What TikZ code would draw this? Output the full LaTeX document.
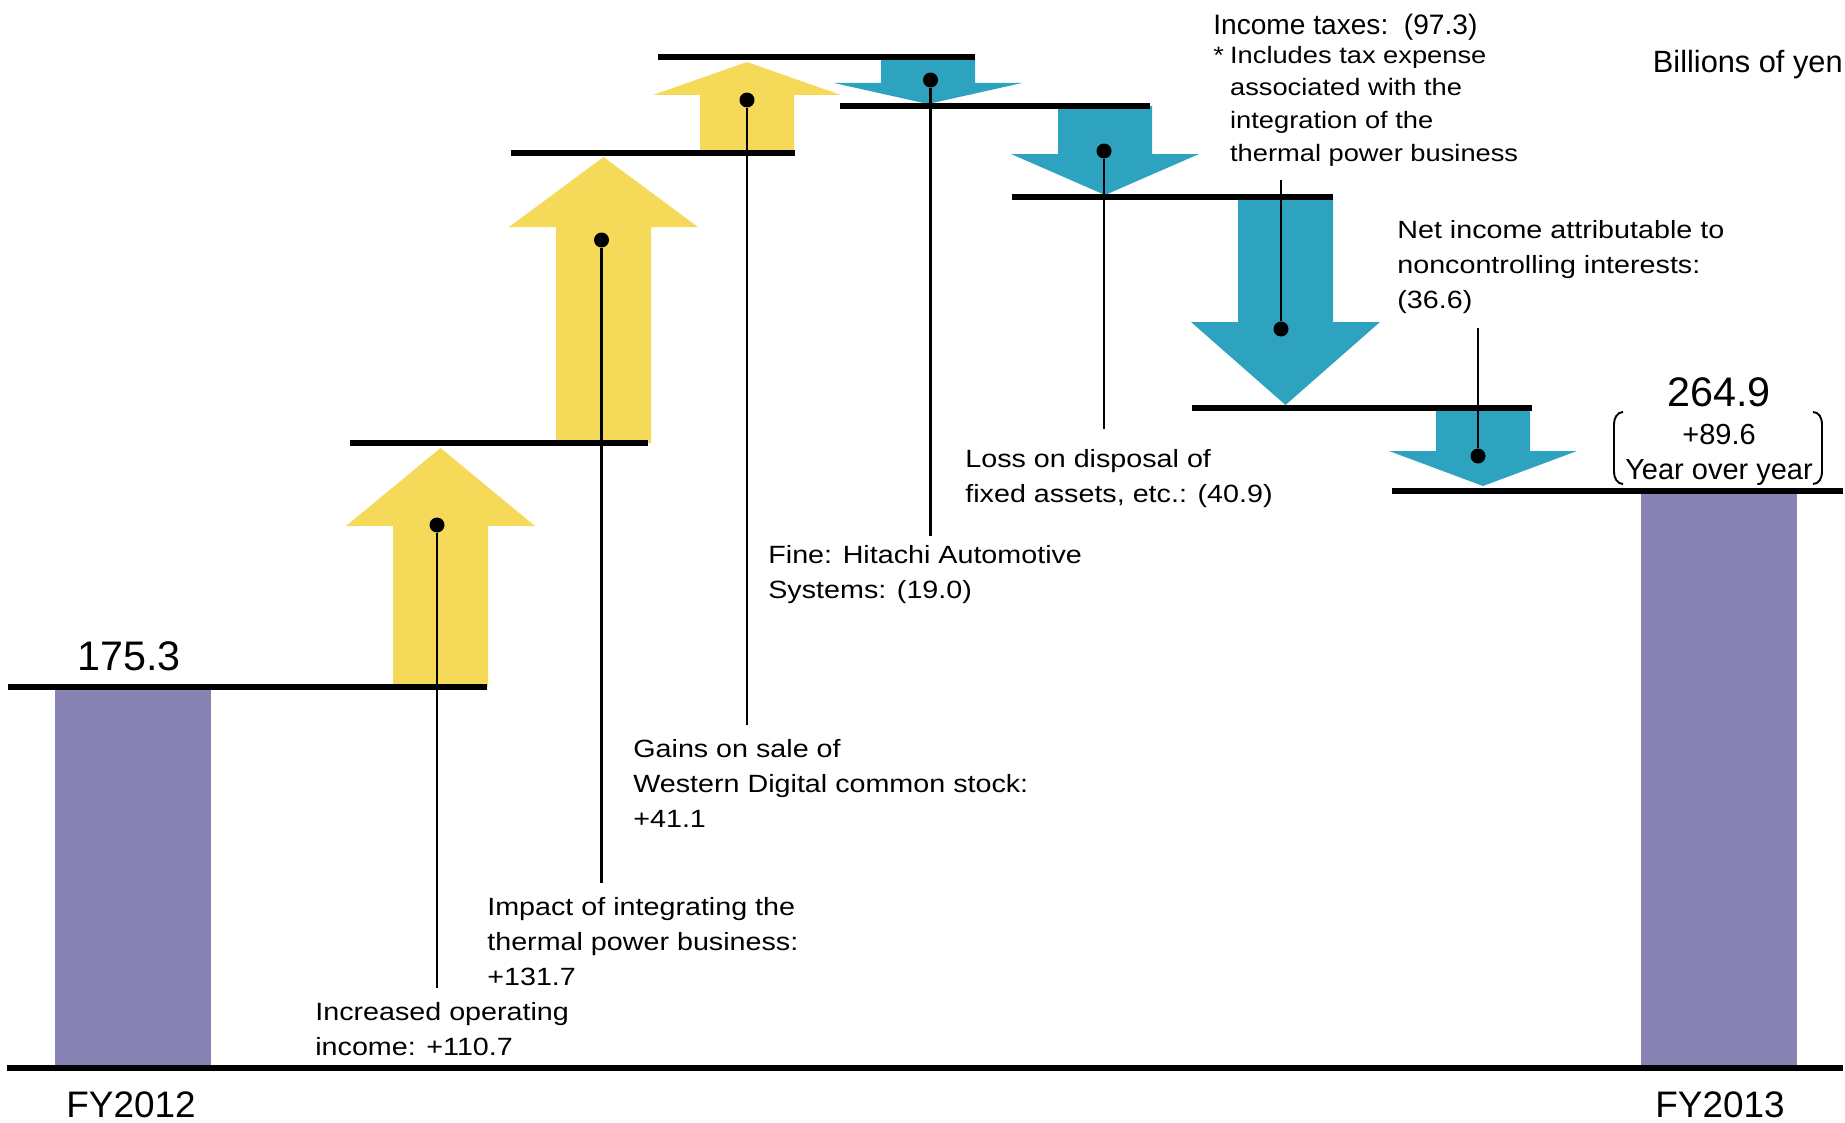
\documentclass[tikz,border=0pt]{standalone}
\usepackage{fontspec}
\setmainfont{Liberation Sans}[FakeStretch=1.15]
\newfontfamily\numfont{Liberation Sans}

\definecolor{gainyellow}{RGB}{245,218,90}
\definecolor{lossblue}{RGB}{46,163,192}
\definecolor{barpurple}{RGB}{135,131,179}

\newcommand{\lblfont}{\fontsize{14.2}{19.9}\selectfont}
\newcommand{\notefont}{\fontsize{13.5}{18.5}\selectfont}
\newcommand{\noteindent}{\hphantom{*}\hspace*{3.5pt}}

\begin{document}
\begin{tikzpicture}[
    x=0.02cm,
    y=-0.02cm,
    level/.style={line width=3.4pt},
    leader/.style={line width=1.4pt},
    dot/.style={circle, fill, inner sep=0pt, minimum size=0.3cm},
    lbl/.style={align=left, anchor=base west, inner xsep=0pt, inner ysep=8pt, font=\lblfont},
    bignum/.style={anchor=base, font=\numfont\fontsize{23.5}{28}\selectfont},
    fylbl/.style={anchor=base, font=\numfont\fontsize{21}{25}\selectfont},
    bracket/.style={line width=1.1pt},
]
    \useasboundingbox (0,0) rectangle (1845,1122);

    % step arrows: shaft left/right, foot, head base, tip
    \foreach \xl/\xr/\ya/\yb/\yt/\col in {
        393/488/687/526/448/gainyellow,
        556/651/443/227/157/gainyellow,
        700/794/153/95/62/gainyellow,
        881/975/57/83/104/lossblue,
        1058/1152/106/154/195/lossblue,
        1238/1333/197/322/405/lossblue,
        1436/1530/408/451/486/lossblue}
    {
        \fill[fill=\col] (\xl,\ya) -- (\xl,\yb) -- (\xl-47,\yb) -- ({(\xl+\xr)/2},\yt)
            -- (\xr+47,\yb) -- (\xr,\yb) -- (\xr,\ya) -- cycle;
    }

    % totals
    \fill[barpurple] (55,690) rectangle (211,1066);
    \fill[barpurple] (1641,494) rectangle (1797,1066);

    % levels
    \foreach \xa/\xb/\y in {
        8/487/687, 350/648/443, 511/795/153, 658/975/57,
        840/1150/106, 1012/1333/197, 1192/1532/408, 1392/1843/491}
    {
        \draw[level] (\xa,\y) -- (\xb,\y);
    }
    \draw[level] (7,1068) -- (1843,1068);

    % dots
    \node[dot] (d1) at (437,525) {};
    \node[dot] (d2) at (601.5,240) {};
    \node[dot] (d3) at (747,100) {};
    \node[dot] (d4) at (930.5,80) {};
    \node[dot] (d5) at (1104,151) {};
    \node[dot] (d6) at (1281,329) {};
    \node[dot] (d7) at (1478,456) {};

    % labels (placed by the baseline of their last line)
    \node[lbl] (l1) at (315,1055) {Increased operating\\income: +110.7};
    \node[lbl] (l2) at (487,985) {Impact of integrating the\\thermal power business:\\+131.7};
    \node[lbl] (l3) at (633,827) {Gains on sale of\\Western Digital common stock:\\+41.1};
    \node[lbl, inner ysep=5pt] (l4) at (768,598) {Fine: Hitachi Automotive\\Systems: (19.0)};
    \node[lbl, inner ysep=11pt] (l5) at (965,502) {Loss on disposal of\\fixed assets, etc.: (40.9)};
    \node[lbl, font=\numfont\fontsize{16}{19}\selectfont] (l6) at (1213,35) {Income taxes:~~(97.3)};
    \node[lbl, font=\notefont] (l6n) at (1213,161)
        {*\hspace{3.5pt}Includes tax expense\\\noteindent associated with the\\\noteindent integration of the\\\noteindent thermal power business};
    \node[lbl] (l7) at (1397,308) {Net income attributable to\\noncontrolling interests:\\(36.6)};

    \draw[leader] (d1) -- (d1 |- l1.north);
    \draw[leader] (d2) -- (d2 |- l2.north);
    \draw[leader] (d3) -- (d3 |- l3.north);
    \draw[leader] (d4) -- (d4 |- l4.north);
    \draw[leader] (d5) -- (d5 |- l5.north);
    \draw[leader] (d6) -- (d6 |- l6n.south);
    \draw[leader] (d7) -- (d7 |- l7.south);

    % totals and axis
    \node[bignum] (v2012) at (129,670) {175.3};
    \node[bignum] (v2013) at (1719,406) {264.9};
    \node[anchor=base, align=center, inner sep=0pt,
          font=\numfont\fontsize{16.5}{19.9}\selectfont] (yoy) at (1719,479) {+89.6\\Year over year};
    \draw[bracket] (1623,412) to[out=180,in=90] (1614,424) -- (1614,472) to[out=-90,in=180] (1623,484);
    \draw[bracket] (1813,412) to[out=0,in=90] (1822,424) -- (1822,472) to[out=-90,in=0] (1813,484);
    \node[fylbl] (fy12) at (131,1117) {FY2012};
    \node[fylbl] (fy13) at (1720,1117) {FY2013};
    \node[anchor=base east, inner sep=0pt, font=\numfont\fontsize{17.5}{21}\selectfont] (unit) at (1843,72) {Billions of yen};
\end{tikzpicture}
\end{document}
